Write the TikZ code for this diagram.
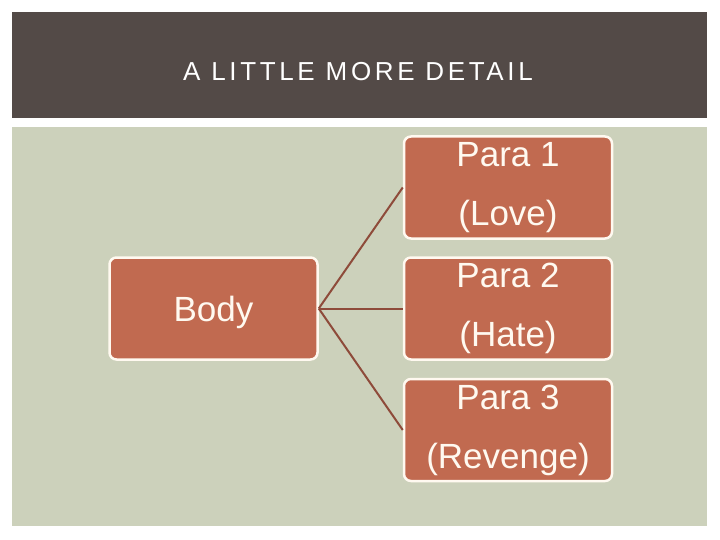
\documentclass[tikz,border=0pt]{standalone}
\usepackage{fontspec}
\setmainfont{Liberation Sans}
\newfontfamily\headfont[LetterSpace=14]{Liberation Sans}

\definecolor{headgray}{HTML}{534A47}
\definecolor{sage}{HTML}{CCD1BB}
\definecolor{brick}{HTML}{C16A50}
\definecolor{brickline}{HTML}{8E4B3A}
\definecolor{cream}{HTML}{FFF9F0}

\begin{document}
\begin{tikzpicture}[
    x=1pt, y=-1pt,
    every node/.style={font=\fontsize{35}{59}\selectfont},
    part/.style={
        draw=cream, line width=2.5pt, rounded corners=7pt,
        fill=brick, text=cream,
        minimum width=208pt, minimum height=102pt,
        inner sep=0pt, align=center,
        execute at begin node={\rule{0pt}{34pt}}
    },
    link/.style={draw=brickline, line width=2pt}
]
\useasboundingbox (0,0) rectangle (720,540);

% ----------------------------------------------------------
% Hintergrund: Titelbalken und Inhaltsfläche
% ----------------------------------------------------------
\fill[headgray] (12,12) rectangle (707,118);
\fill[sage] (12,127) rectangle (707,526);
\node[font=\headfont\fontsize{26}{30}\selectfont, text=white,
      anchor=base west, inner sep=0pt] (title) at (183,81)
    {A LITTLE MORE DETAIL};

% ----------------------------------------------------------
% Linke Box
% ----------------------------------------------------------
\node[part] (body) at (213.5,308.5) {Body};

% ----------------------------------------------------------
% Rechte Spalte: drei Absätze
% ----------------------------------------------------------
\node[part] (para1) at (508,187.5) {Para 1\\(Love)};
\node[part] (para2) at (508,308.5) {Para 2\\(Hate)};
\node[part] (para3) at (508,430)   {Para 3\\(Revenge)};

% Verbindungen
\foreach \p in {para1,para2,para3} {
    \draw[link] (body.east) -- (\p.west);
}

\end{tikzpicture}
\end{document}
